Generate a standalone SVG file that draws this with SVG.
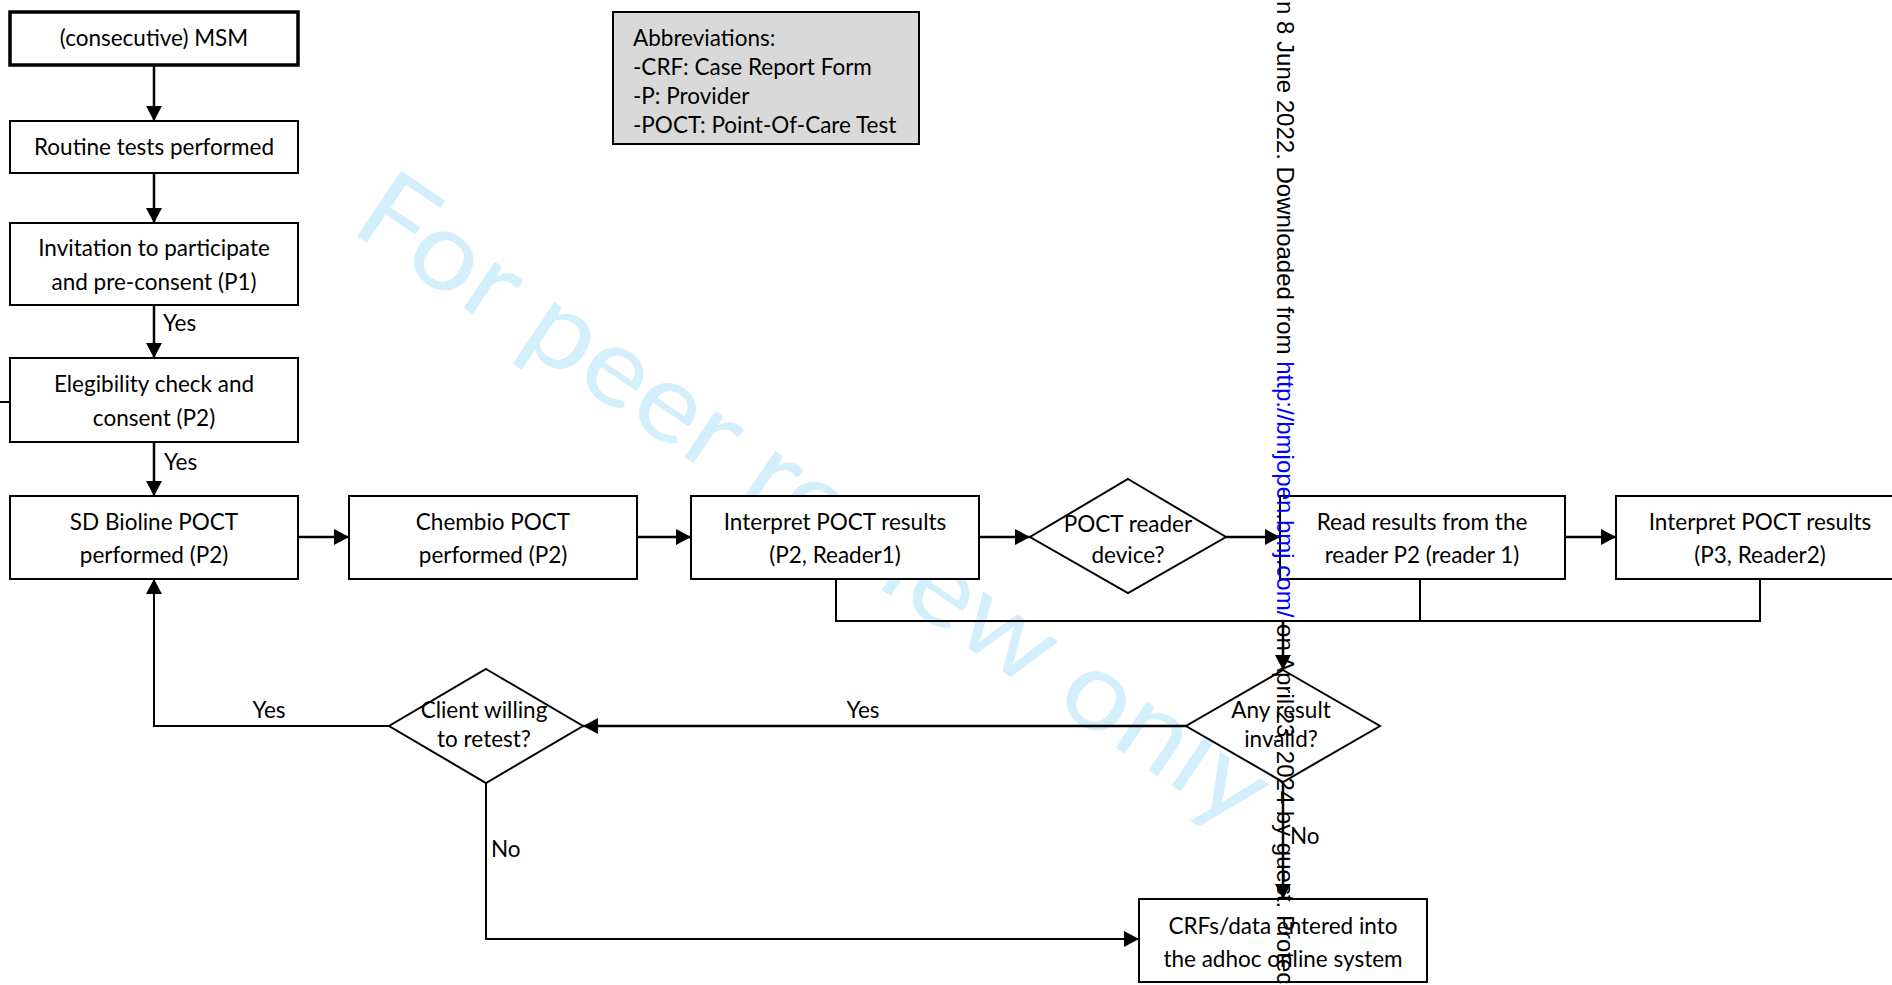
<svg xmlns="http://www.w3.org/2000/svg" width="1892" height="985" viewBox="0 0 1892 985">
<style>
.box{fill:#fff;stroke:#000;stroke-width:2}
.dia{fill:#fff;stroke:#000;stroke-width:2}
.t{font-family:Lato,"Open Sans",sans-serif;font-size:22.5px;fill:#000;text-anchor:middle}
.tl{font-family:Lato,"Open Sans",sans-serif;font-size:22.5px;fill:#000}
.c{fill:none;stroke:#000;stroke-width:2.5}
.f{fill:none;stroke:#000;stroke-width:2}
.wm{font-family:Lato,"Open Sans",sans-serif;font-size:110px;fill:#d3effb}
.side{font-family:"Liberation Sans",Arial,sans-serif;font-size:24px;fill:#000}
</style>
<defs>
<marker id="ah" markerUnits="userSpaceOnUse" markerWidth="16" markerHeight="16" refX="15" refY="8" orient="auto">
<path d="M0,0 L15,8 L0,16 z" fill="#000"/>
</marker>
</defs>
<rect width="1892" height="985" fill="#fff"/>
<text class="wm" x="348" y="230" transform="rotate(34 348 230)" textLength="1075" lengthAdjust="spacingAndGlyphs">For peer review only</text>

<g id="connectors">
<line class="c" x1="154" y1="65" x2="154" y2="121" marker-end="url(#ah)"/>
<line class="c" x1="154" y1="173" x2="154" y2="223" marker-end="url(#ah)"/>
<line class="c" x1="154" y1="305" x2="154" y2="358" marker-end="url(#ah)"/>
<line class="c" x1="154" y1="442" x2="154" y2="496" marker-end="url(#ah)"/>
<line class="c" x1="298" y1="537" x2="349" y2="537" marker-end="url(#ah)"/>
<line class="c" x1="637" y1="537" x2="691" y2="537" marker-end="url(#ah)"/>
<line class="c" x1="979" y1="537" x2="1030" y2="537" marker-end="url(#ah)"/>
<line class="c" x1="1226" y1="537" x2="1280" y2="537" marker-end="url(#ah)"/>
<line class="c" x1="1565" y1="537" x2="1616" y2="537" marker-end="url(#ah)"/>
<line class="f" x1="0" y1="402" x2="10" y2="402"/>
<path class="f" d="M836,579 V621 H1760 V579 M1420,579 V621"/>
<line class="c" x1="1283" y1="621" x2="1283" y2="670" marker-end="url(#ah)"/>
<line class="c" x1="1186" y1="726" x2="583" y2="726" marker-end="url(#ah)"/>
<path class="f" d="M389,726 H154 V579" marker-end="url(#ah)"/>
<path class="f" d="M486,783 V939 H1139" marker-end="url(#ah)"/>
<line class="c" x1="1283" y1="782" x2="1283" y2="899" marker-end="url(#ah)"/>
<text class="tl" x="163" y="331">Yes</text>
<text class="tl" x="164" y="470">Yes</text>
<text class="t" x="269" y="717.5">Yes</text>
<text class="t" x="863" y="717.5">Yes</text>
<text class="tl" x="491" y="857">No</text>
<text class="tl" x="1290" y="844">No</text>
</g>

<g id="n_msm">
<rect x="10" y="12" width="288" height="53" fill="#fff" stroke="#000" stroke-width="3.5"/>
<text class="t" x="154" y="46">(consecutive) MSM</text>
</g>
<g id="n_routine">
<rect class="box" x="10" y="121" width="288" height="52"/>
<text class="t" x="154" y="155">Routine tests performed</text>
</g>
<g id="n_invitation">
<rect class="box" x="10" y="223" width="288" height="82"/>
<text class="t" x="154" y="255.5">Invitation to participate</text>
<text class="t" x="154" y="290">and pre-consent (P1)</text>
</g>
<g id="n_eligibility">
<rect class="box" x="10" y="358" width="288" height="84"/>
<text class="t" x="154" y="392">Elegibility check and</text>
<text class="t" x="154" y="425.5">consent (P2)</text>
</g>
<g id="n_sd">
<rect class="box" x="10" y="496" width="288" height="83"/>
<text class="t" x="154" y="530">SD Bioline POCT</text>
<text class="t" x="154" y="563">performed (P2)</text>
</g>
<g id="n_chembio">
<rect class="box" x="349" y="496" width="288" height="83"/>
<text class="t" x="493" y="530">Chembio POCT</text>
<text class="t" x="493" y="563">performed (P2)</text>
</g>
<g id="n_interp1">
<rect class="box" x="691" y="496" width="288" height="83"/>
<text class="t" x="835" y="530">Interpret POCT results</text>
<text class="t" x="835" y="563">(P2, Reader1)</text>
</g>
<g id="n_reader">
<polygon class="dia" points="1128,479 1226,537 1128,593 1030,537"/>
<text class="t" x="1128" y="532">POCT reader</text>
<text class="t" x="1128" y="563">device?</text>
</g>
<g id="n_read">
<rect class="box" x="1280" y="496" width="285" height="83"/>
<text class="t" x="1422" y="530">Read results from the</text>
<text class="t" x="1422" y="563">reader P2 (reader 1)</text>
</g>
<g id="n_interp2">
<path d="M1892,496 H1616 V579 H1892" fill="#fff" stroke="#000" stroke-width="2"/>
<text class="t" x="1760" y="530">Interpret POCT results</text>
<text class="t" x="1760" y="563">(P3, Reader2)</text>
</g>
<g id="n_invalid">
<polygon class="dia" points="1283,670 1380,726 1283,782 1186,726"/>
<text class="t" x="1281" y="717.5">Any result</text>
<text class="t" x="1281" y="746.5">invalid?</text>
</g>
<g id="n_retest">
<polygon class="dia" points="486,669 583,726 486,783 389,726"/>
<text class="t" x="484" y="717.5">Client willing</text>
<text class="t" x="484" y="746.5">to retest?</text>
</g>
<g id="n_crf">
<rect class="box" x="1139" y="899" width="288" height="83"/>
<text class="t" x="1283" y="933.5">CRFs/data entered into</text>
<text class="t" x="1283" y="967">the adhoc online system</text>
</g>
<g id="n_abbrev">
<rect x="613" y="12" width="306" height="132" fill="#d9d9d9" stroke="#000" stroke-width="2"/>
<text class="tl" x="633" y="45.5">Abbreviations:</text>
<text class="tl" x="633" y="74.5">-CRF: Case Report Form</text>
<text class="tl" x="633" y="103.5">-P: Provider</text>
<text class="tl" x="633" y="132.5">-POCT: Point-Of-Care Test</text>
</g>

<text class="side" transform="translate(1277,1) rotate(90)">n 8 June 2022. Downloaded from <tspan fill="#0000ff">http://bmjopen.bmj.com/</tspan> on April 23, 2024 by guest. Protec</text>
</svg>
